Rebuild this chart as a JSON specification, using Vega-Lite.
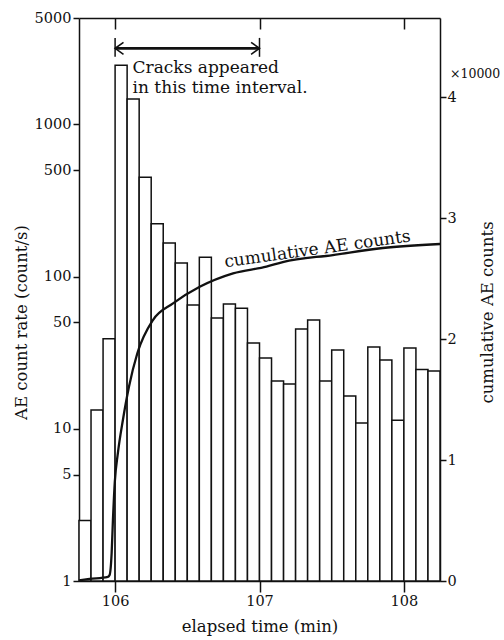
{
  "$schema": "https://vega.github.io/schema/vega-lite/v6.json",
  "width": 361,
  "height": 563,
  "autosize": "none",
  "padding": {"left": 79, "top": 18, "right": 64, "bottom": 59},
  "background": "white",
  "config": {
    "view": {"stroke": null},
    "font": "DejaVu Serif",
    "axis": {
      "labelFont": "DejaVu Serif",
      "labelFontSize": 14.5,
      "titleFont": "DejaVu Serif",
      "titleFontSize": 16.5,
      "titleFontWeight": "normal",
      "labelColor": "#111",
      "titleColor": "#111",
      "domainColor": "#111",
      "tickColor": "#111",
      "domainWidth": 1.5,
      "tickWidth": 1.5,
      "grid": false
    },
    "text": {"font": "DejaVu Serif", "color": "#111"}
  },
  "datasets": {
    "rate": [
      {"t0": 105.75, "t1": 105.8333, "rate": 2.5},
      {"t0": 105.8333, "t1": 105.9167, "rate": 13.3},
      {"t0": 105.9167, "t1": 106.0, "rate": 39},
      {"t0": 106.0, "t1": 106.0833, "rate": 2450},
      {"t0": 106.0833, "t1": 106.1667, "rate": 1470},
      {"t0": 106.1667, "t1": 106.25, "rate": 450},
      {"t0": 106.25, "t1": 106.3333, "rate": 222},
      {"t0": 106.3333, "t1": 106.4167, "rate": 166},
      {"t0": 106.4167, "t1": 106.5, "rate": 123},
      {"t0": 106.5, "t1": 106.5833, "rate": 65},
      {"t0": 106.5833, "t1": 106.6667, "rate": 134},
      {"t0": 106.6667, "t1": 106.75, "rate": 53.5},
      {"t0": 106.75, "t1": 106.8333, "rate": 66},
      {"t0": 106.8333, "t1": 106.9167, "rate": 62},
      {"t0": 106.9167, "t1": 107.0, "rate": 36.6},
      {"t0": 107.0, "t1": 107.0833, "rate": 29.2},
      {"t0": 107.0833, "t1": 107.1667, "rate": 20.6},
      {"t0": 107.1667, "t1": 107.25, "rate": 19.7},
      {"t0": 107.25, "t1": 107.3333, "rate": 45.3},
      {"t0": 107.3333, "t1": 107.4167, "rate": 51.9},
      {"t0": 107.4167, "t1": 107.5, "rate": 20.6},
      {"t0": 107.5, "t1": 107.5833, "rate": 32.9},
      {"t0": 107.5833, "t1": 107.6667, "rate": 16.4},
      {"t0": 107.6667, "t1": 107.75, "rate": 10.9},
      {"t0": 107.75, "t1": 107.8333, "rate": 34.5},
      {"t0": 107.8333, "t1": 107.9167, "rate": 28.3},
      {"t0": 107.9167, "t1": 108.0, "rate": 11.4},
      {"t0": 108.0, "t1": 108.0833, "rate": 34.0},
      {"t0": 108.0833, "t1": 108.1667, "rate": 24.5},
      {"t0": 108.1667, "t1": 108.25, "rate": 24.0}
    ],
    "cum": [
      {"t": 105.75, "cum": 50},
      {"t": 105.823, "cum": 170},
      {"t": 105.95, "cum": 350},
      {"t": 105.962, "cum": 500},
      {"t": 105.976, "cum": 2290},
      {"t": 105.985, "cum": 5040},
      {"t": 105.998, "cum": 8200},
      {"t": 106.019, "cum": 10550},
      {"t": 106.054, "cum": 13310},
      {"t": 106.096, "cum": 16060},
      {"t": 106.154, "cum": 18820},
      {"t": 106.262, "cum": 21570},
      {"t": 106.401, "cum": 22950},
      {"t": 106.586, "cum": 24320},
      {"t": 106.817, "cum": 25430},
      {"t": 107.048, "cum": 25980},
      {"t": 107.161, "cum": 26360},
      {"t": 107.508, "cum": 26940},
      {"t": 107.854, "cum": 27520},
      {"t": 108.25, "cum": 27850}
    ],
    "ends": [{"t": 106.0}, {"t": 107.0}]
  },
  "resolve": {
    "scale": {"y": "independent"},
    "axis": {"x": "independent", "y": "independent"}
  },
  "layer": [
    {
      "layer": [
        {
          "data": {"name": "rate"},
          "mark": {"type": "rect", "fill": "white", "stroke": "#111", "strokeWidth": 1.5},
          "encoding": {
            "x": {
              "field": "t0", "type": "quantitative",
              "scale": {"domain": [105.75, 108.25], "nice": false, "zero": false},
              "axis": {
                "orient": "bottom", "values": [106, 107, 108], "format": "d",
                "tickSize": 11, "labelPadding": 2,
                "title": "elapsed time (min)",
                "titleY": 50, "titleBaseline": "alphabetic"
              }
            },
            "x2": {"field": "t1"},
            "y": {
              "field": "rate", "type": "quantitative",
              "title": "AE count rate (count/s)",
              "scale": {"type": "log", "domain": [1, 5000], "nice": false},
              "axis": {
                "orient": "left", "values": [1, 5, 10, 50, 100, 500, 1000, 5000], "format": "d",
                "tickSize": 6, "labelPadding": 2,
                "titleX": -58, "titleY": 304, "titleAngle": 270,
                "titleAlign": "center", "titleBaseline": "middle"
              }
            },
            "y2": {"datum": 1}
          }
        },
        {
          "data": {"values": [{}]},
          "mark": {"type": "rule", "stroke": "#111", "strokeWidth": 2.6},
          "encoding": {
            "x": {"datum": 106.0, "type": "quantitative"},
            "x2": {"datum": 107.0},
            "y": {"datum": 3160, "type": "quantitative", "title": "AE count rate (count/s)"}
          }
        },
        {
          "data": {"name": "ends"},
          "mark": {"type": "rule", "stroke": "#111", "strokeWidth": 1.5},
          "encoding": {
            "x": {"field": "t", "type": "quantitative"},
            "y": {"datum": 3700, "type": "quantitative", "title": "AE count rate (count/s)"},
            "y2": {"datum": 2780}
          }
        },
        {
          "data": {"values": [{}]},
          "mark": {"type": "point", "shape": "M1.4,-1L0,0L1.4,1", "size": 144, "filled": false, "stroke": "#111", "strokeWidth": 1.6, "opacity": 1},
          "encoding": {
            "x": {"datum": 106.0, "type": "quantitative"},
            "y": {"datum": 3160, "type": "quantitative", "title": "AE count rate (count/s)"}
          }
        },
        {
          "data": {"values": [{}]},
          "mark": {"type": "point", "shape": "M-1.4,-1L0,0L-1.4,1", "size": 144, "filled": false, "stroke": "#111", "strokeWidth": 1.6, "opacity": 1},
          "encoding": {
            "x": {"datum": 107.0, "type": "quantitative"},
            "y": {"datum": 3160, "type": "quantitative", "title": "AE count rate (count/s)"}
          }
        },
        {
          "data": {"values": [{"label": ["Cracks appeared", "in this time interval."]}]},
          "mark": {"type": "text", "align": "left", "baseline": "alphabetic", "fontSize": 17, "lineHeight": 20},
          "encoding": {
            "x": {"datum": 106.121, "type": "quantitative"},
            "y": {"datum": 2178, "type": "quantitative", "title": "AE count rate (count/s)"},
            "text": {"field": "label"}
          }
        }
      ]
    },
    {
      "layer": [
        {
          "data": {"name": "cum"},
          "mark": {"type": "line", "stroke": "#111", "strokeWidth": 2.3, "interpolate": "monotone"},
          "encoding": {
            "x": {"field": "t", "type": "quantitative", "axis": null},
            "y": {
              "field": "cum", "type": "quantitative",
              "title": "cumulative AE counts",
              "scale": {"domain": [0, 46530], "nice": false, "zero": true},
              "axis": {
                "orient": "right", "values": [0, 10000, 20000, 30000, 40000],
                "labelExpr": "datum.value / 10000",
                "tickSize": 6, "labelPadding": 1,
                "titleX": 47.5, "titleY": 294, "titleAngle": 270,
                "titleAlign": "center", "titleBaseline": "middle"
              }
            }
          }
        },
        {
          "data": {"values": [{"label": "cumulative AE counts"}]},
          "mark": {"type": "text", "align": "center", "baseline": "alphabetic", "fontSize": 17, "angle": -8},
          "encoding": {
            "x": {"datum": 107.406, "type": "quantitative", "axis": null},
            "y": {"datum": 27000, "type": "quantitative", "title": "cumulative AE counts"},
            "text": {"field": "label"}
          }
        },
        {
          "data": {"values": [{"label": "×10000"}]},
          "mark": {"type": "text", "align": "left", "baseline": "alphabetic", "fontSize": 12.5, "dx": 10},
          "encoding": {
            "x": {"datum": 108.25, "type": "quantitative", "axis": null},
            "y": {"datum": 41570, "type": "quantitative", "title": "cumulative AE counts"},
            "text": {"field": "label"}
          }
        }
      ]
    },
    {
      "data": {"values": [{"t": 106}]},
      "mark": {"type": "point", "opacity": 0},
      "encoding": {
        "x": {
          "field": "t", "type": "quantitative",
          "axis": {"orient": "top", "values": [106, 107, 108], "labels": false, "tickSize": -11, "title": null}
        }
      }
    }
  ]
}
